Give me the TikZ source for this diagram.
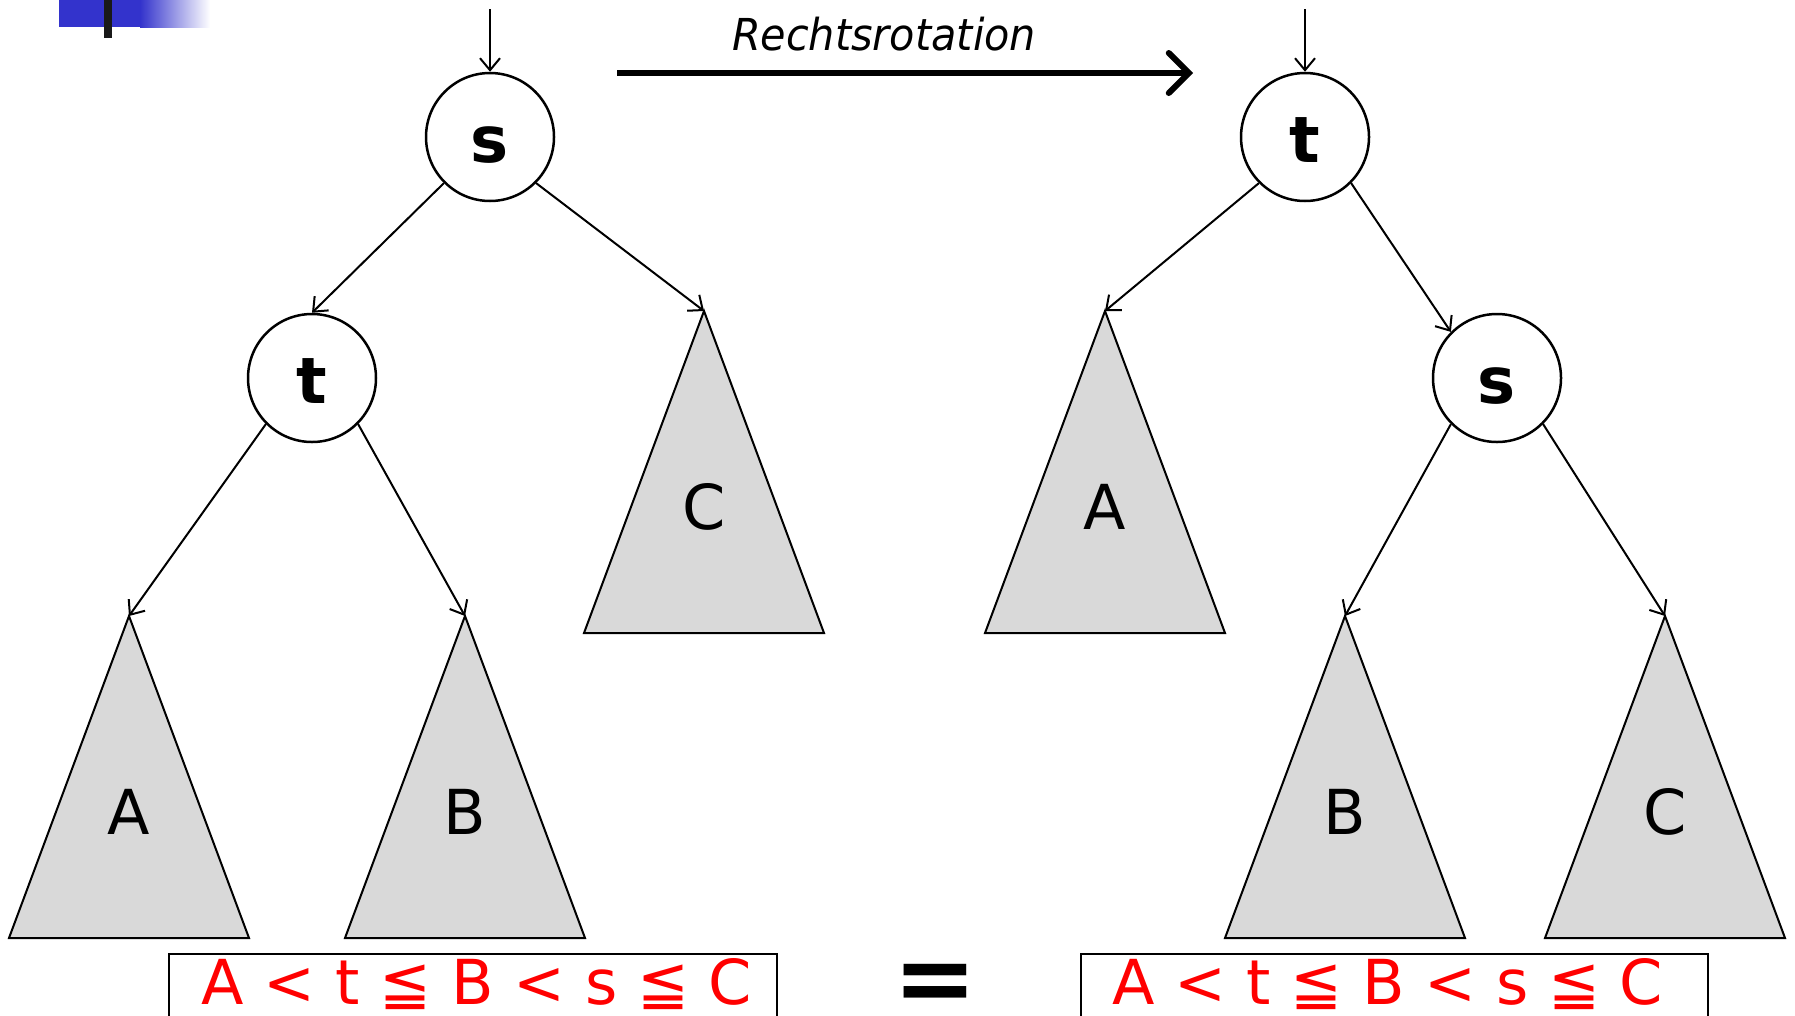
\documentclass[tikz,border=0pt]{standalone}
\usepackage{fontspec}
\setmainfont{DejaVu Sans}
\usetikzlibrary{arrows.meta}
\definecolor{slideblue}{RGB}{51,51,204}
\definecolor{treegray}{RGB}{217,217,217}
\tikzset{
  knot/.style={circle, draw, line width=2.5pt, minimum size=128pt, inner sep=0pt, fill=white,
    text height=50pt, text depth=0pt, font=\fontsize{64}{64}\selectfont\bfseries},
  subtree/.style={draw, line width=2pt, fill=treegray},
  treelabel/.style={font=\fontsize{62}{62}\selectfont},
  link/.style={line width=2pt, -{Straight Barb[length=12pt, width=20pt, line width=2pt]}},
  order/.style={text=red, inner sep=0pt, font=\fontsize{62}{62}\selectfont},
}
\begin{document}
\begin{tikzpicture}[x=1pt, y=-1pt]
    \clip (0,0) rectangle (1795,1015);
    % slide decoration
    \fill[slideblue] (59,0) rectangle (140,27);
    \shade[left color=slideblue, right color=white] (140,0) rectangle (210,27);
    \fill[black!90] (104,0) rectangle (112,38);

    % Nodes
    \node[knot] (ls) at (490,137) {s};
    \node[knot] (lt) at (312,378) {t};
    \node[knot] (rt) at (1305,137) {t};
    \node[knot] (rs) at (1497,378) {s};

    % Subtrees
    \foreach \n/\x/\y/\l in {lA/129/616/A, lB/465/616/B, lC/704/311/C,
                             rA/1105/311/A, rB/1345/616/B, rC/1665/616/C}{
        \draw[subtree] ({\x},{\y}) coordinate (\n) -- ++(-120,322) -- ++(240,0) -- cycle;
        \node[treelabel] (\n label) at ({\x},{\y+196}) {\l};
    }

    % Edges left
    \coordinate (lin) at (490,9);
    \draw[link] (lin) -- (ls);
    \draw[link] (ls.south west) -- (lt.north);
    \draw[link] (ls.south east) -- (lC);
    \draw[link] (lt.south west) -- (lA);
    \draw[link] (lt.south east) -- (lB);

    % Edges right
    \coordinate (rin) at (1305,9);
    \draw[link] (rin) -- (rt);
    \draw[link] (rt.south west) -- (rA);
    \draw[link] (rt.south east) -- (rs.north west);
    \draw[link] (rs.south west) -- (rB);
    \draw[link] (rs.south east) -- (rC);

    % Rotation arrow
    \coordinate (rotstart) at (617,73);
    \coordinate (rotend) at (1193,73);
    \draw[line width=6pt, -{Straight Barb[length=20pt, width=40pt, line width=6pt, line cap=round]}] (rotstart) -- (rotend);
    \node[font=\fontsize{44}{44}\selectfont\addfontfeature{FakeStretch=0.94}\itshape, anchor=base] (rotlabel) at (884,50) {Rechtsrotation};

    % Order
    \draw[line width=2.5pt] (169,954) rectangle (777,1040);
    \node[order, anchor=base] (lorder) at (477,1004) {A < t ≦ B < s ≦ C};
    \draw[line width=2.5pt] (1081,954) rectangle (1708,1040);
    \node[order, anchor=base] (rorder) at (1388,1004) {A < t ≦ B < s ≦ C};
    \node[font=\fontsize{100}{100}\selectfont\bfseries, inner sep=0pt, anchor=base] (equal) at (935,1012) {=};
\end{tikzpicture}
\end{document}
